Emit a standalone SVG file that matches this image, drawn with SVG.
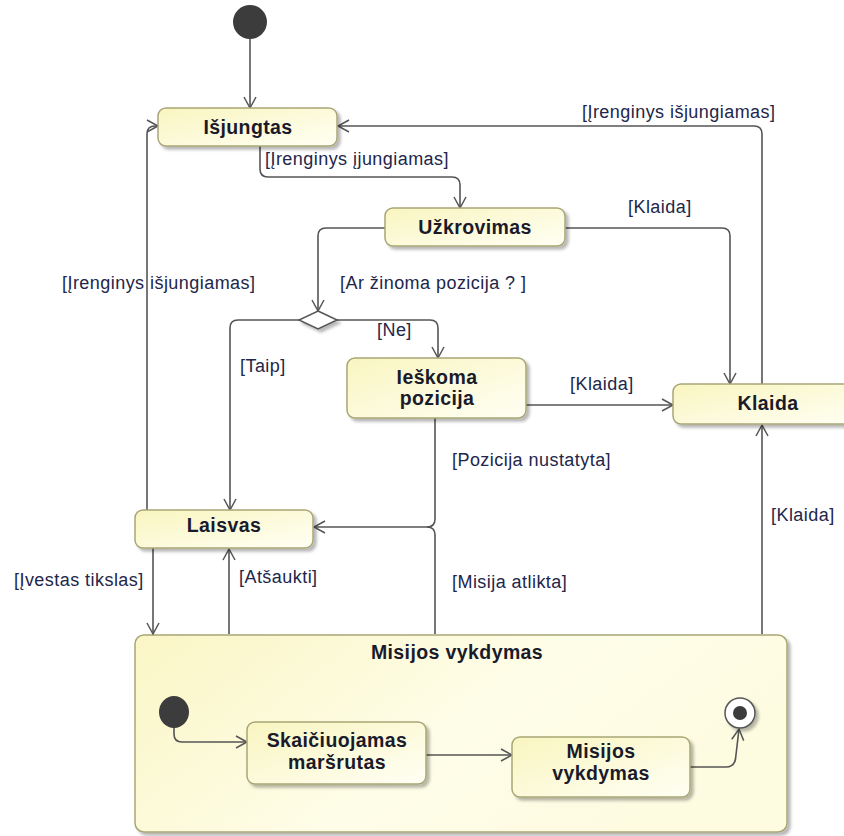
<svg xmlns="http://www.w3.org/2000/svg" width="844" height="836" viewBox="0 0 844 836">
  <defs>
    <linearGradient id="stateFill" x1="0" y1="0" x2="1" y2="1">
      <stop offset="0" stop-color="#f9f5c0"/>
      <stop offset="1" stop-color="#fffff4"/>
    </linearGradient>
    <linearGradient id="compositeFill" x1="0" y1="0" x2="1" y2="0.4">
      <stop offset="0" stop-color="#faf6c6"/>
      <stop offset="0.6" stop-color="#fefde8"/>
      <stop offset="1" stop-color="#fdfbe0"/>
    </linearGradient>
    <filter id="shadow" x="-10%" y="-10%" width="130%" height="140%">
      <feDropShadow dx="3" dy="3" stdDeviation="1.5" flood-color="#000" flood-opacity="0.28"/>
    </filter>
    <marker id="arrow" markerUnits="userSpaceOnUse" markerWidth="14" markerHeight="14" refX="12" refY="7" orient="auto">
      <path d="M1,1 L12,7 L1,13" fill="none" stroke="#555" stroke-width="1.5"/>
    </marker>
  </defs>
  <style>
    .state { fill: url(#stateFill); stroke: #a8a676; stroke-width: 1.5; filter: url(#shadow); }
    .name { font-family: "Liberation Sans", Arial, sans-serif; font-size: 19.5px; font-weight: bold; letter-spacing: 0.4px; fill: #1a1a2a; text-anchor: middle; }
    .guard { font-family: "Liberation Sans", Arial, sans-serif; font-size: 18px; letter-spacing: 0.45px; fill: #22264a; }
    .edge { fill: none; stroke: #555; stroke-width: 1.6; marker-end: url(#arrow); }
    .line { fill: none; stroke: #555; stroke-width: 1.6; }
    .pseudo { fill: #3c3c3c; }
  </style>

  <rect width="844" height="836" fill="#ffffff"/>

  <!-- composite state -->
  <g id="misijos-vykdymas">
    <rect x="135" y="635" width="652" height="197" rx="9" fill="url(#compositeFill)" stroke="#a8a676" stroke-width="1.5" filter="url(#shadow)"/>
    <text class="name" x="457" y="659">Misijos vykdymas</text>
  </g>

  <!-- transitions -->
  <g id="connectors">
    <path class="edge" d="M250 39 V108"/>
    <path class="edge" d="M260 146 V169 Q260 177 268 177 H452 Q460 177 460 185 V208"/>
    <path class="edge" d="M385 228 H326 Q318 228 318 236 V311"/>
    <path class="edge" d="M299 320 H238 Q230 320 230 328 V510"/>
    <path class="edge" d="M337 320 H430 Q438 320 438 328 V358"/>
    <path class="edge" d="M565 228 H722 Q730 228 730 236 V384"/>
    <path class="edge" d="M526 405 H673"/>
    <path class="edge" d="M762 384 V134 Q762 126 754 126 H338"/>
    <path class="edge" d="M435 418 V519 Q435 527 427 527 H314"/>
    <path class="line" d="M435 634 V535 Q435 527 427 527"/>
    <path class="edge" d="M147 510 V134 Q147 126 155 126 H158"/>
    <path class="edge" d="M153 548 V634"/>
    <path class="edge" d="M229 634 V549"/>
    <path class="edge" d="M762 634 V425"/>
    <path class="edge" d="M174 727 V734 Q174 742 182 742 H247"/>
    <path class="edge" d="M426 755 H512"/>
    <path class="edge" d="M690 767 H726 Q734 767 735.5 759 L739 729"/>
  </g>

  <!-- guard labels -->
  <g id="labels">
    <text class="guard" x="265" y="165">[Įrenginys įjungiamas]</text>
    <text class="guard" x="628" y="213">[Klaida]</text>
    <text class="guard" x="340" y="289">[Ar žinoma pozicija ? ]</text>
    <text class="guard" x="62" y="289">[Įrenginys išjungiamas]</text>
    <text class="guard" x="582" y="118">[Įrenginys išjungiamas]</text>
    <text class="guard" x="377" y="336">[Ne]</text>
    <text class="guard" x="240" y="372">[Taip]</text>
    <text class="guard" x="570" y="390">[Klaida]</text>
    <text class="guard" x="452" y="466">[Pozicija nustatyta]</text>
    <text class="guard" x="771" y="521">[Klaida]</text>
    <text class="guard" x="14" y="586">[Įvestas tikslas]</text>
    <text class="guard" x="239" y="583">[Atšaukti]</text>
    <text class="guard" x="452" y="588">[Misija atlikta]</text>
  </g>

  <!-- initial pseudostate -->
  <g id="initial">
    <circle class="pseudo" cx="250" cy="22" r="17"/>
  </g>

  <g id="isjungtas">
    <rect class="state" x="158" y="108" width="179" height="38" rx="8"/>
    <text class="name" x="248" y="134">Išjungtas</text>
  </g>

  <g id="uzkrovimas">
    <rect class="state" x="385" y="208" width="180" height="38" rx="8"/>
    <text class="name" x="475" y="234">Užkrovimas</text>
  </g>

  <g id="choice">
    <polygon points="318,311 337,320 318,329 299,320" fill="#ffffff" stroke="#555" stroke-width="1.5" filter="url(#shadow)"/>
  </g>

  <g id="ieskoma-pozicija">
    <rect class="state" x="347" y="358" width="179" height="60" rx="8"/>
    <text class="name" x="437" y="384">Ieškoma</text>
    <text class="name" x="437" y="405">pozicija</text>
  </g>

  <g id="klaida">
    <rect class="state" x="673" y="384" width="190" height="40" rx="8"/>
    <text class="name" x="768" y="410">Klaida</text>
  </g>

  <g id="laisvas">
    <rect class="state" x="135" y="510" width="178" height="38" rx="8"/>
    <text class="name" x="224" y="532">Laisvas</text>
  </g>

  <!-- nested region -->
  <g id="inner-initial">
    <ellipse class="pseudo" cx="174" cy="712" rx="15" ry="16"/>
  </g>

  <g id="skaiciuojamas-marsrutas">
    <rect class="state" x="247" y="722" width="179" height="62" rx="8"/>
    <text class="name" x="337" y="747">Skaičiuojamas</text>
    <text class="name" x="337" y="769">maršrutas</text>
  </g>

  <g id="misijos-vykdymas-inner">
    <rect class="state" x="512" y="737" width="178" height="60" rx="8"/>
    <text class="name" x="601" y="758">Misijos</text>
    <text class="name" x="601" y="780">vykdymas</text>
  </g>

  <g id="final">
    <circle cx="740" cy="713" r="15" fill="#ffffff" stroke="#555" stroke-width="1.5" filter="url(#shadow)"/>
    <circle class="pseudo" cx="740" cy="713" r="7"/>
  </g>
</svg>
